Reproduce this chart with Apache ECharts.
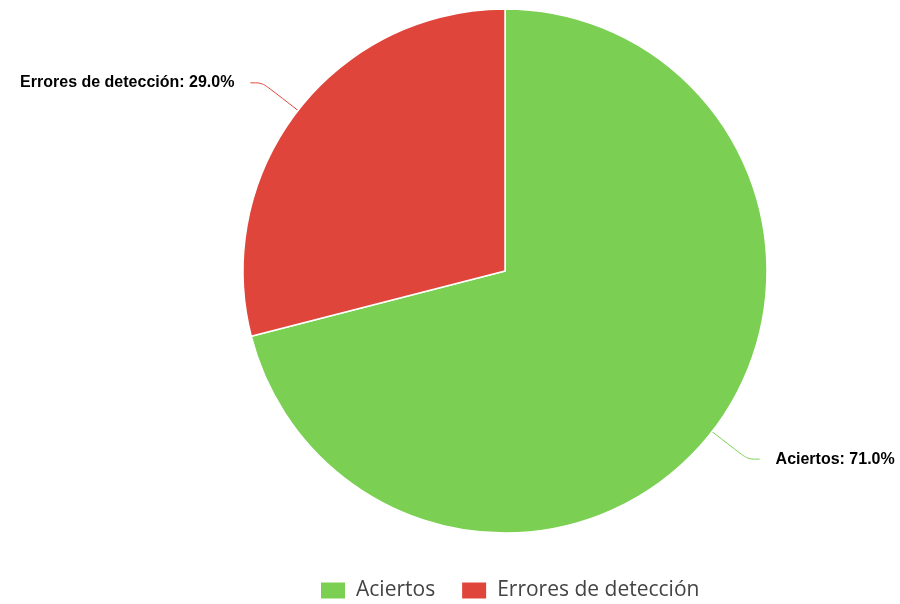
<!DOCTYPE html>
<html><head><meta charset="utf-8">
<script src="https://cdn.jsdelivr.net/npm/echarts@6/dist/echarts.min.js"></script>
<style>html,body{margin:0;padding:0;background:#fff}#c{width:900px;height:604px}</style>
</head><body><div id="c"></div>
<script>
const categories = ['Aciertos', 'Errores de detección'];
const values = [71.0, 29.0];
const colors = ['#7bd053', '#e0453b'];

const chart = echarts.init(document.getElementById('c'), null, {renderer: 'canvas'});
chart.setOption({
  animation: false,
  color: colors,
  legend: {
    top: 580,
    left: 319,
    padding: 0,
    icon: 'rect',
    itemWidth: 26,
    itemHeight: 18,
    itemGap: 25,
    textStyle: {fontFamily: 'Open Sans', fontSize: 21, color: '#444', padding: [0, 0, 0, 5]},
    data: categories
  },
  series: [{
    type: 'pie',
    center: [505, 271],
    radius: [0, 262],
    startAngle: 90,
    clockwise: true,
    avoidLabelOverlap: false,
    itemStyle: {borderColor: '#fff', borderWidth: 1.5},
    label: {
      show: true,
      position: 'outside',
      formatter: p => p.name + ': ' + p.value.toFixed(1) + '%',
      fontFamily: 'Liberation Sans, Arial, sans-serif',
      fontWeight: 'bold',
      fontSize: 16,
      color: '#000',
      textBorderColor: '#fff',
      textBorderWidth: 2,
      distanceToLabelLine: 16
    },
    labelLine: {show: true, length: 45, length2: 12, smooth: 0.3, lineStyle: {width: 1}},
    emphasis: {disabled: true},
    data: categories.map((n, i) => ({name: n, value: values[i]}))
  }]
});
</script></body></html>
